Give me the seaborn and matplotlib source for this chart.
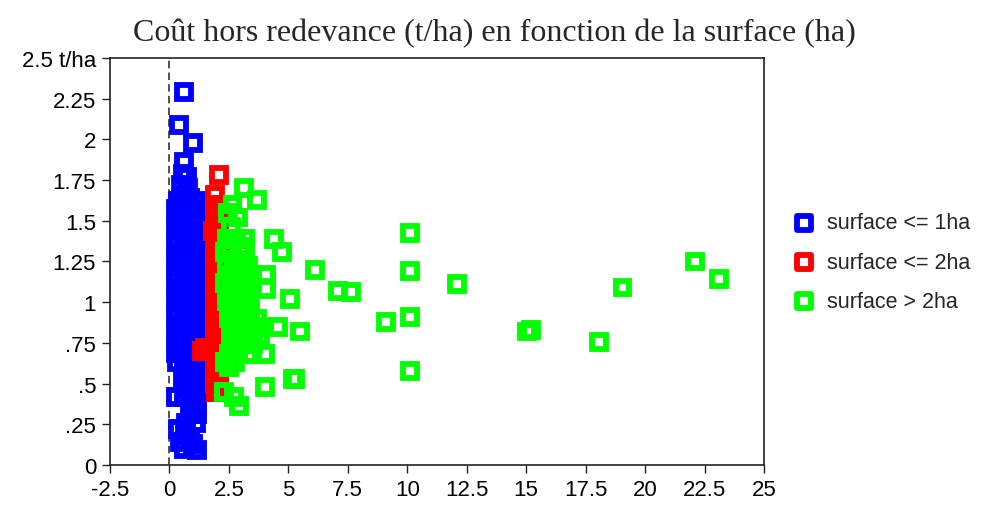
import matplotlib
matplotlib.use("Agg")
import matplotlib.pyplot as plt
import seaborn as sns
import pandas as pd

# surface (ha) and cost excluding fee (t/ha)
blue_x = [0.6, 0.39, 1.0, 0.6,
          0.55, 0.75, 0.5, 0.8, 0.55, 0.85,
          0.35, 0.7, 1.1,
          0.28, 0.6, 0.95, 1.16,
          0.3, 0.7, 1.1,
          0.28, 0.55, 0.9, 1.16,
          0.32, 0.7, 1.05,
          0.28, 0.6, 0.95, 1.16,
          0.3, 0.75, 1.1,
          0.28, 0.55, 0.9, 1.16,
          0.33, 0.7, 1.05,
          0.28, 0.6, 0.95, 1.16,
          0.3, 0.72, 1.1,
          0.28, 0.55, 0.9, 1.16,
          0.32, 0.7, 1.05,
          0.28, 0.6, 0.95, 1.16,
          0.3, 0.75, 1.1,
          0.28, 0.55, 0.9, 1.16,
          0.33, 0.7, 1.05,
          0.28, 0.6, 0.95, 1.16,
          0.3, 0.72, 1.1,
          0.6, 0.95, 1.16,
          0.55, 0.85, 1.15,
          0.65, 1.0, 1.16,
          0.27, 0.6, 0.95, 1.16,
          0.85, 1.16,
          1.0, 1.16,
          0.7, 1.1,
          0.35, 0.65, 0.45, 0.85, 0.6, 1.15, 1.0]
blue_y = [2.29, 2.09, 1.98, 1.86,
          1.79, 1.77, 1.72, 1.7, 1.66, 1.64,
          1.62, 1.62, 1.62,
          1.57, 1.57, 1.57, 1.57,
          1.51, 1.51, 1.51,
          1.46, 1.46, 1.46, 1.46,
          1.40, 1.40, 1.40,
          1.35, 1.35, 1.35, 1.35,
          1.29, 1.29, 1.29,
          1.24, 1.24, 1.24, 1.24,
          1.18, 1.18, 1.18,
          1.13, 1.13, 1.13, 1.13,
          1.07, 1.07, 1.07,
          1.02, 1.02, 1.02, 1.02,
          0.96, 0.96, 0.96,
          0.91, 0.91, 0.91, 0.91,
          0.85, 0.85, 0.85,
          0.80, 0.80, 0.80, 0.80,
          0.74, 0.74, 0.74,
          0.69, 0.69, 0.69, 0.69,
          0.63, 0.63, 0.63,
          0.58, 0.58, 0.58,
          0.52, 0.52, 0.52,
          0.47, 0.47, 0.47,
          0.42, 0.42, 0.42, 0.42,
          0.37, 0.37,
          0.31, 0.31,
          0.26, 0.26,
          0.22, 0.2, 0.14, 0.16, 0.1, 0.09, 0.13]

red_x = [2.1, 1.93,
         1.95, 1.9, 2.1, 1.95, 1.85, 2.1, 1.9, 2.1, 1.95,
         1.9, 2.1, 1.95, 2.1, 1.9, 1.95, 2.1, 1.9,
         1.95, 2.1, 1.9, 2.1, 1.95, 1.9, 2.1, 1.95, 2.1,
         1.5, 1.9, 2.1, 1.35, 1.7, 1.95, 1.9, 2.1,
         1.95, 2.1, 1.9, 2.1, 1.95, 2.05]
red_y = [1.78, 1.66,
         1.60, 1.55, 1.55, 1.49, 1.44, 1.44, 1.38, 1.38, 1.33,
         1.27, 1.27, 1.22, 1.22, 1.16, 1.11, 1.11, 1.05,
         1.00, 1.00, 0.94, 0.94, 0.89, 0.83, 0.83, 0.78, 0.78,
         0.72, 0.72, 0.72, 0.70, 0.70, 0.67, 0.61, 0.61,
         0.56, 0.56, 0.50, 0.50, 0.45, 0.45]

green_x = [3.12, 3.67, 2.65, 2.45, 2.9, 2.6,
           2.4, 2.8, 3.2, 4.41,
           2.6, 3.0,
           2.35, 3.2, 4.74,
           2.7, 3.1,
           2.4, 2.9, 3.3,
           6.13,
           2.6, 3.0, 3.4, 4.07,
           2.35, 2.8, 3.2,
           4.07, 7.07, 7.64,
           2.6, 3.0, 3.4,
           5.07,
           2.4, 2.8, 3.2,
           2.6, 3.0, 3.4,
           2.5, 2.9, 3.3, 3.7,
           2.7, 3.1, 3.5, 3.9, 4.57,
           5.5,
           2.6, 3.0, 3.4, 3.8,
           2.7, 3.1, 3.5,
           2.5, 2.9, 3.3, 4.04,
           2.35, 2.75, 2.5,
           5.3, 5.2, 4.0, 2.3, 2.7, 2.91,
           10.1, 10.1, 10.1, 10.1, 9.1, 12.1,
           15.05, 15.2, 18.05, 19.05, 22.1, 23.1]
green_y = [1.70, 1.63, 1.60, 1.55, 1.52, 1.46,
           1.39, 1.39, 1.39, 1.39,
           1.34, 1.34,
           1.31, 1.31, 1.31,
           1.26, 1.26,
           1.22, 1.22, 1.22,
           1.20,
           1.17, 1.17, 1.17, 1.17,
           1.12, 1.12, 1.12,
           1.08, 1.07, 1.06,
           1.06, 1.06, 1.06,
           1.02,
           1.01, 1.01, 1.01,
           0.95, 0.95, 0.95,
           0.90, 0.90, 0.90, 0.90,
           0.85, 0.85, 0.85, 0.85, 0.85,
           0.82,
           0.79, 0.79, 0.79, 0.79,
           0.74, 0.74, 0.74,
           0.68, 0.68, 0.68, 0.68,
           0.63, 0.63, 0.60,
           0.53, 0.53, 0.48, 0.45, 0.42, 0.36,
           1.425, 1.19, 0.91, 0.58, 0.88, 1.11,
           0.82, 0.83, 0.755, 1.09, 1.25, 1.14]

groups = ["surface <= 1ha", "surface <= 2ha", "surface > 2ha"]
colors = ["#0000ff", "#ff0000", "#00ff00"]

x_ticks = [-2.5, 0, 2.5, 5, 7.5, 10, 12.5, 15, 17.5, 20, 22.5, 25]
x_labels = ["-2.5", "0", "2.5", "5", "7.5", "10", "12.5", "15", "17.5", "20", "22.5", "25"]
y_ticks = [0, 0.25, 0.5, 0.75, 1, 1.25, 1.5, 1.75, 2, 2.25, 2.5]
y_labels = ["0", ".25", ".5", ".75", "1", "1.25", "1.5", "1.75", "2", "2.25", "2.5 t/ha"]

df = pd.concat([
    pd.DataFrame({"x": blue_x, "y": blue_y, "grp": groups[0]}),
    pd.DataFrame({"x": red_x, "y": red_y, "grp": groups[1]}),
    pd.DataFrame({"x": green_x, "y": green_y, "grp": groups[2]}),
])

sns.set_style("white")
plt.rcParams['font.family'] = ['Liberation Sans', 'DejaVu Sans']

fig = plt.figure(figsize=(9.89, 5.10), dpi=100)
ax = fig.add_axes([0.1112, 0.0863, 0.6613, 0.798])

ax.axvline(0, color="#333333", lw=1.2, ls=(0, (4.5, 2.5)), zorder=0)

for g, c in zip(groups, colors):
    sub = df[df["grp"] == g]
    sns.scatterplot(data=sub, x="x", y="y", marker="s", s=100, fc="none", ec=c,
                    linewidth=4.2, joinstyle="miter", label=g, ax=ax)

ax.set_xlim(-2.5, 25)
ax.set_ylim(0, 2.5)
ax.set_xticks(x_ticks)
ax.set_xticklabels(x_labels)
ax.set_yticks(y_ticks)
ax.set_yticklabels(y_labels)
ax.set_xlabel("")
ax.set_ylabel("")
ax.tick_params(axis="both", direction="out", length=6, width=1, colors="#222222",
               labelsize=16, labelcolor="black", left=True, bottom=True, pad=4)
for sp in ax.spines.values():
    sp.set_color("#222222")
    sp.set_linewidth(1.2)

leg = ax.legend(loc="center left", bbox_to_anchor=(0.793, 0.484),
                bbox_transform=fig.transFigure, frameon=False, fontsize=15.5,
                handlelength=1.0, handletextpad=0.6, labelspacing=0.85,
                markerscale=1.0, borderaxespad=0)

fig.text(0.5, 0.935, "Coût hors redevance (t/ha) en fonction de la surface (ha)",
         ha="center", va="center", fontsize=23, family=["Liberation Serif", "DejaVu Serif"])

fig.savefig("out.png", dpi=100)
